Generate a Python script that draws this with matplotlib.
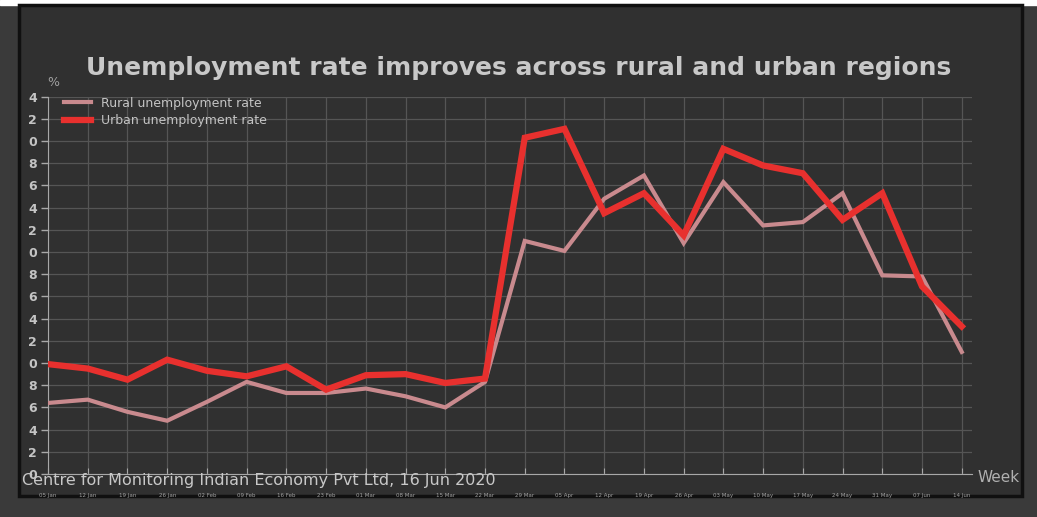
import matplotlib

matplotlib.use("Agg")
import matplotlib.pyplot as plt  # noqa: E402
from matplotlib.patches import Rectangle  # noqa: E402

# weekly CMIE data, week ending dates (2020)
weeks = ["05 Jan", "12 Jan", "19 Jan", "26 Jan", "02 Feb", "09 Feb", "16 Feb",
         "23 Feb", "01 Mar", "08 Mar", "15 Mar", "22 Mar", "29 Mar", "05 Apr",
         "12 Apr", "19 Apr", "26 Apr", "03 May", "10 May", "17 May", "24 May",
         "31 May", "07 Jun", "14 Jun"]
rural = [6.4, 6.7, 5.6, 4.8, 6.5, 8.3, 7.3, 7.3, 7.7, 7.0, 6.0, 8.3,
         21.0, 20.1, 24.8, 26.9, 20.8, 26.3, 22.4, 22.7, 25.3, 17.9, 17.8, 11.0]
urban = [9.9, 9.5, 8.5, 10.3, 9.3, 8.8, 9.7, 7.6, 8.9, 9.0, 8.2, 8.6,
         30.3, 31.1, 23.5, 25.3, 21.5, 29.3, 27.8, 27.1, 22.9, 25.3, 16.9, 13.3]
y_ticks = list(range(0, 35, 2))

BG = "#303030"
TXT = "#c4c4c4"

fig = plt.figure(figsize=(10.37, 5.17), dpi=100, facecolor="#3a3a3a")
# white strip on top and the inner dark panel with a black frame
fig.patches.append(Rectangle((0, 0.99), 1, 0.01, transform=fig.transFigure,
                             color="white", zorder=-2))
fig.patches.append(Rectangle((0.018, 0.04), 0.968, 0.95, transform=fig.transFigure,
                             facecolor=BG, edgecolor="#101010", lw=2.5, zorder=-2))

ax = fig.add_axes([0.0463, 0.0832, 0.8907, 0.7298])
ax.set_facecolor(BG)
x = list(range(len(weeks)))
ax.plot(x, rural, color="#c98a8e", lw=3, label="Rural unemployment rate",
        solid_joinstyle="miter", zorder=3)
ax.plot(x, urban, color="#e8302e", lw=4.5, label="Urban unemployment rate",
        solid_joinstyle="miter", zorder=4)

ax.set_xlim(0, 23.25)
ax.set_ylim(0, 34)
ax.set_yticks(y_ticks)
ax.set_yticklabels([str(v % 10) for v in y_ticks], color=TXT, fontsize=9,
                   fontweight="bold")
ax.set_xticks(x)
ax.set_xticklabels(weeks, fontsize=4, color="#a0a0a0")
ax.tick_params(axis="y", colors="#a8a8a8", length=5, width=1, pad=3,
               labelcolor=TXT)
ax.tick_params(axis="x", direction="in", colors="#a8a8a8", length=4,
               labelcolor="#a0a0a0", pad=14)
ax.grid(True, color="#555555", lw=0.9)
for side in ("top", "right"):
    ax.spines[side].set_visible(False)
ax.spines["left"].set_color("#a8a8a8")
ax.spines["bottom"].set_color("#a8a8a8")

leg = ax.legend(loc="upper left", bbox_to_anchor=(0.005, 1.03), frameon=False,
                fontsize=9, handlelength=2.2, labelspacing=0.35)
for t in leg.get_texts():
    t.set_color(TXT)

fig.text(0.5, 0.868, "Unemployment rate improves across rural and urban regions",
         ha="center", va="center", fontsize=18, fontweight="bold", color="#c8c8c8")
fig.text(0.046, 0.84, "%", ha="left", va="center", fontsize=9, color="#a0a0a0")
fig.text(0.943, 0.076, "Week", ha="left", va="center", fontsize=11, color="#b0b0b0")
fig.text(0.021, 0.07, "Centre for Monitoring Indian Economy Pvt Ltd, 16 Jun 2020",
         ha="left", va="center", fontsize=11.5, color="#c8c8c8")

fig.savefig("out.png", dpi=100, facecolor=fig.get_facecolor())
